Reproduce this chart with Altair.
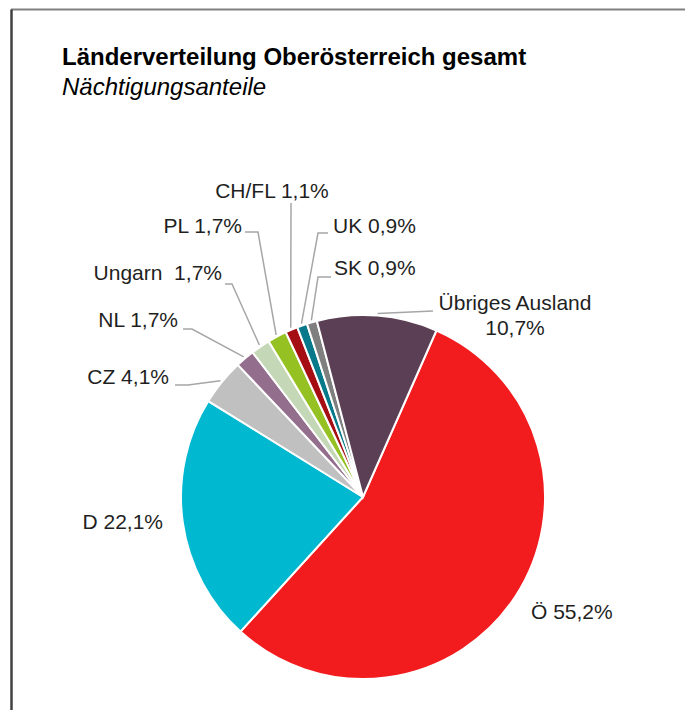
import math
import altair as alt
import pandas as pd

# ---- data ----
countries = ["Ö", "D", "CZ", "NL", "Ungarn", "PL", "CH/FL", "UK", "SK", "Übriges Ausland"]
shares = [55.2, 22.1, 4.1, 1.7, 1.7, 1.7, 1.1, 0.9, 0.9, 10.7]
label_lines = [["Ö 55,2%"], ["D 22,1%"], ["CZ 4,1%"], ["NL 1,7%"], ["Ungarn \u00a01,7%"], ["PL 1,7%"],
               ["CH/FL 1,1%"], ["UK 0,9%"], ["SK 0,9%"], ["Übriges Ausland", "10,7%"]]
colors = ["#F21B1E", "#00B8D0", "#C0C0C0", "#946F8D", "#C4D7B6", "#95C122",
          "#A50E13", "#08798A", "#7F7F7F", "#5B4055"]

title = "Länderverteilung Oberösterreich gesamt"
subtitle = "Nächtigungsanteile"

# ---- layout (pixels inside the chart) ----
W, H = 677, 702
CX, CY, R = 355, 489, 182
START = math.radians(23.8)

# label anchor (x, y of first line), alignment, leader elbow points (from slice toward label)
label_layout = {
    "Ö": (523, 605, "left", []),
    "D": (155, 515, "right", []),
    "CZ": (161, 370, "right", [(180, 377), (167, 377)]),
    "NL": (170, 313, "right", [(184, 321), (175, 321)]),
    "Ungarn": (214, 266, "right", [(224, 276), (217, 276)]),
    "PL": (234, 219, "right", [(250, 224), (237, 224)]),
    "CH/FL": (264, 184, "center", [(283, 195)]),
    "UK": (325, 219, "left", [(310, 225), (320, 225)]),
    "SK": (326, 261, "left", [(310, 269), (323, 269)]),
    "Übriges Ausland": (507, 296, "center", [(425, 303)]),
}
LINE_GAP = 25

pie_df = pd.DataFrame({"country": countries, "share": shares, "idx": list(range(len(countries)))})

total = sum(shares)
text_rows, line_rows = [], []
cum = 0.0
for c, s, lines in zip(countries, shares, label_lines):
    mid = START + 2 * math.pi * (cum + s / 2) / total
    cum += s
    lx, ly, al, elbows = label_layout[c]
    for k, t in enumerate(lines):
        text_rows.append({"t": t, "x": lx, "y": ly + k * LINE_GAP, "align": al})
    if elbows:
        pts = [(CX + (R + 2) * math.sin(mid), CY - (R + 2) * math.cos(mid))] + elbows
        for j, (px, py) in enumerate(pts):
            line_rows.append({"c": c, "seq": j, "x": px, "y": py})

text_df = pd.DataFrame(text_rows)
line_df = pd.DataFrame(line_rows)

xs = alt.Scale(domain=[0, W], range=[0, W])
ys = alt.Scale(domain=[0, H], range=[0, H])

pie = alt.Chart(pie_df).mark_arc(radius=R, stroke="white", strokeWidth=2).encode(
    theta=alt.Theta("share:Q", stack=True, scale=alt.Scale(range=[START, START + 2 * math.pi])),
    order=alt.Order("idx:Q"),
    color=alt.Color("country:N", scale=alt.Scale(domain=countries, range=colors), legend=None),
    x=alt.value(CX),
    y=alt.value(CY),
)

leaders = alt.Chart(line_df).mark_line(color="#A6A6A6", strokeWidth=1.5).encode(
    x=alt.X("x:Q", scale=xs, axis=None),
    y=alt.Y("y:Q", scale=ys, axis=None),
    detail="c:N",
    order="seq:Q",
)

def text_layer(al):
    return alt.Chart(text_df).transform_filter(alt.datum.align == al).mark_text(
        font="Liberation Sans", fontSize=21, color="#1F1F1F", align=al, baseline="middle"
    ).encode(
        x=alt.X("x:Q", scale=xs, axis=None),
        y=alt.Y("y:Q", scale=ys, axis=None),
        text="t:N",
    )

title_layer = alt.Chart(pd.DataFrame({"t": [title]})).mark_text(
    font="Liberation Sans", fontSize=24, fontWeight="bold", color="#000000", align="left", baseline="middle"
).encode(x=alt.value(54), y=alt.value(50), text="t:N")

subtitle_layer = alt.Chart(pd.DataFrame({"t": [subtitle]})).mark_text(
    font="Liberation Sans", fontSize=24, fontStyle="italic", color="#000000", align="left", baseline="middle"
).encode(x=alt.value(54), y=alt.value(80), text="t:N")

frame_top = alt.Chart(pd.DataFrame({"a": [0]})).mark_rule(color="#808080", strokeWidth=2).encode(
    x=alt.value(3), x2=alt.value(W), y=alt.value(1.5), y2=alt.value(1.5))
frame_left = alt.Chart(pd.DataFrame({"a": [0]})).mark_rule(color="#404040", strokeWidth=2.5).encode(
    x=alt.value(3.5), x2=alt.value(3.5), y=alt.value(1.5), y2=alt.value(H))

chart = alt.layer(
    frame_top, frame_left, title_layer, subtitle_layer, pie, leaders,
    text_layer("left"), text_layer("right"), text_layer("center"),
).properties(width=W, height=H, padding=0, autosize="none").configure_view(stroke=None)

chart.save("out.html", embed_options={"renderer": "svg", "actions": False})
